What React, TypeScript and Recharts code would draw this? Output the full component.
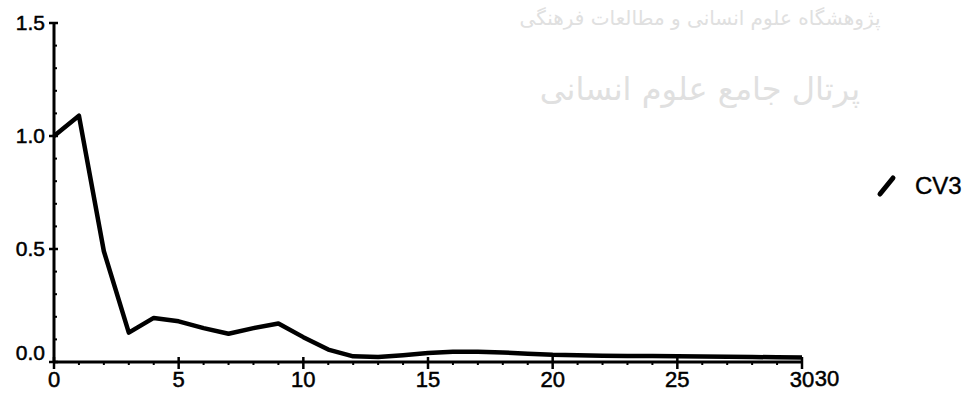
import { Line, LineChart, XAxis, YAxis } from "recharts";

const steps = [0, 1, 2, 3, 4, 5, 6, 7, 8, 9, 10, 11, 12, 13, 14, 15, 16, 17, 18, 19, 20, 21, 22, 23, 24, 25, 26, 27, 28, 29, 30];
const cv3 = [
  1.0, 1.09, 0.49, 0.13, 0.195, 0.18, 0.15, 0.125, 0.15, 0.17, 0.11, 0.055, 0.025, 0.022, 0.03, 0.04,
  0.045, 0.045, 0.042, 0.037, 0.032, 0.03, 0.028, 0.027, 0.026, 0.025, 0.024, 0.023, 0.022, 0.021, 0.02,
];
const xMajor = [0, 5, 10, 15, 20, 25, 30];
const yTicks = [0, 0.1, 0.2, 0.3, 0.4, 0.5, 0.6, 0.7, 0.8, 0.9, 1.0, 1.1, 1.2, 1.3, 1.4, 1.5];
const yMajor = [0, 0.5, 1.0, 1.5];
const seriesName = "CV3";

const data = steps.map((step, i) => ({ step, cv3: cv3[i] }));

const FONT = "'Liberation Sans', Arial, sans-serif";

// recharts hands ticks at axis + 8px (tickSize 6 + margin 2)
function XTick(props: any) {
  const { x, y, payload } = props;
  const v = payload.value;
  if (!xMajor.includes(v)) {
    return <rect x={x - 1} y={y - 7} width={2} height={2} fill="#000" />;
  }
  return (
    <g>
      <line x1={x} x2={x} y1={y - 13} y2={y - 1} stroke="#000" strokeWidth={2.5} />
      <text x={x} y={y + 17} textAnchor="middle" fontFamily={FONT} fontSize={22} fill="#000" stroke="#000" strokeWidth={0.5}>
        {v}
      </text>
      {v === 30 && (
        <text x={x + 25} y={y + 16} textAnchor="middle" fontFamily={FONT} fontSize={22} fill="#000" stroke="#000" strokeWidth={0.5}>
          30
        </text>
      )}
    </g>
  );
}

function YTick(props: any) {
  const { x, y, payload } = props;
  const v = payload.value;
  const major = yMajor.some((m) => Math.abs(m - v) < 1e-6);
  if (!major) {
    return <rect x={x + 8} y={y - 1} width={3} height={2} fill="#000" />;
  }
  return (
    <g>
      <line x1={x + 3} x2={x + 12} y1={y} y2={y} stroke="#000" strokeWidth={2.5} />
      <text
        x={x - 1}
        y={y + (v === 0 ? -2 : 7)}
        textAnchor="end"
        fontFamily={FONT}
        fontSize={21}
        fill="#000"
        stroke="#000"
        strokeWidth={0.5}
      >
        {v.toFixed(1)}
      </text>
    </g>
  );
}

export default function App() {
  return (
    <div style={{ position: "absolute", left: 0, top: 0, width: 968, height: 396, background: "#fff", overflow: "hidden" }}>
      <div
        style={{
          position: "absolute",
          left: 490,
          top: 6,
          width: 420,
          textAlign: "center",
          direction: "rtl",
          whiteSpace: "nowrap",
          fontFamily: "'DejaVu Sans', 'Noto Sans', sans-serif",
          color: "#e0e0e0",
          lineHeight: 1.2,
        }}
      >
        <div style={{ fontSize: 20 }}>پژوهشگاه علوم انسانی و مطالعات فرهنگی</div>
        <div style={{ fontSize: 32, marginTop: 40 }}>پرتال جامع علوم انسانی</div>
      </div>
      <div
        style={{
          position: "absolute",
          left: 874,
          top: 172,
          display: "flex",
          alignItems: "center",
          fontFamily: FONT,
          fontSize: 24,
          color: "#000",
        }}
      >
        <svg width={24} height={24} style={{ marginRight: 17 }}>
          <line x1={6} y1={20} x2={19} y2={4} stroke="#000" strokeWidth={5} strokeLinecap="round" />
        </svg>
        <span style={{ WebkitTextStroke: "0.4px #000" }}>{seriesName}</span>
      </div>
      <LineChart
        width={968}
        height={396}
        data={data}
        margin={{ top: 23, right: 166, left: 0, bottom: 0 }}
        style={{ position: "absolute", left: 0, top: 0 }}
      >
        <XAxis
          dataKey="step"
          type="number"
          domain={[0, 30]}
          ticks={steps}
          interval={0}
          height={34}
          axisLine={{ stroke: "#000", strokeWidth: 3 }}
          tickLine={false}
          tick={<XTick />}
        />
        <YAxis
          type="number"
          domain={[0, 1.5]}
          ticks={yTicks}
          interval={0}
          width={54}
          axisLine={{ stroke: "#000", strokeWidth: 3 }}
          tickLine={false}
          tick={<YTick />}
        />
        <Line
          dataKey="cv3"
          name={seriesName}
          type="linear"
          stroke="#000"
          strokeWidth={4.5}
          dot={false}
          isAnimationActive={false}
          strokeLinejoin="round"
        />
      </LineChart>
    </div>
  );
}
